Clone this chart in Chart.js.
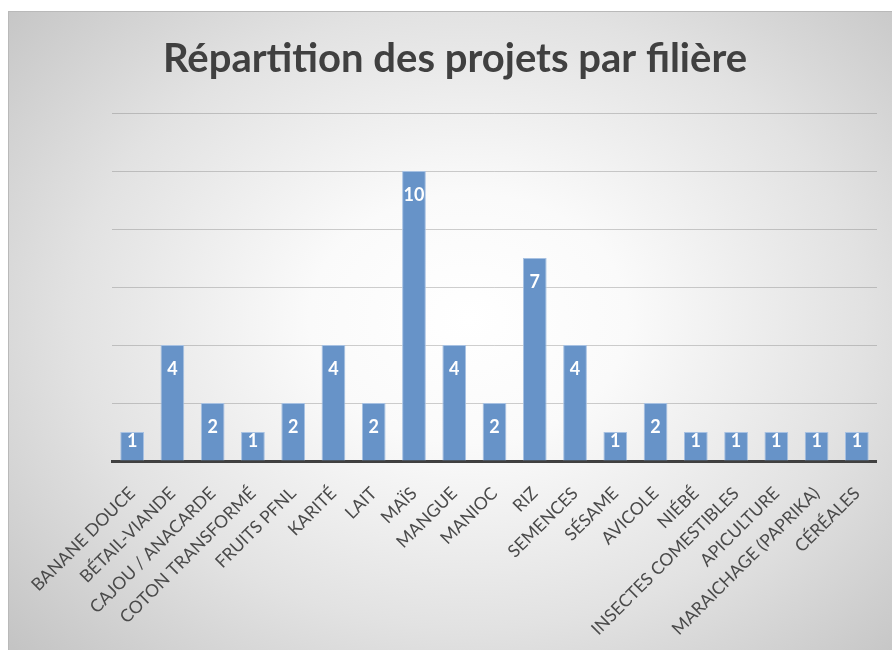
<!DOCTYPE html>
<html>
<head>
<meta charset="utf-8">
<script src="https://cdn.jsdelivr.net/npm/chart.js@4"></script>
<style>
  html, body { margin: 0; padding: 0; background: #ffffff; overflow: hidden; }
  #frame {
    position: absolute; left: 8px; top: 11px; width: 884px; height: 639px; overflow: hidden;
    border-top: 1px solid #b9b9b9; border-left: 1px solid #b9b9b9;
    background: radial-gradient(ellipse 72% 78% at 52% 48%, #ffffff 0%, #fafafa 25%, #e2e2e2 62%, #c2c2c2 100%);
  }
  canvas { display: block; }
</style>
</head>
<body>
<div id="frame"><canvas id="chart" width="868" height="638"></canvas></div>
<script>
// Filières and number of projects
const filieres = [
    'BANANE DOUCE', 'BÉTAIL-VIANDE', 'CAJOU / ANACARDE', 'COTON TRANSFORMÉ',
    'FRUITS PFNL', 'KARITÉ', 'LAIT', 'MAÏS', 'MANGUE', 'MANIOC', 'RIZ',
    'SEMENCES', 'SÉSAME', 'AVICOLE', 'NIÉBÉ', 'INSECTES COMESTIBLES',
    'APICULTURE', 'MARAICHAGE (PAPRIKA)', 'CÉRÉALES'
];
const nbProjets = [1, 4, 2, 1, 2, 4, 2, 10, 4, 2, 7, 4, 1, 2, 1, 1, 1, 1, 1];
const yTicks = [0, 2, 4, 6, 8, 10, 12];

// white value labels inside the top of each bar
const barLabels = {
    id: 'barLabels',
    afterDraw(chart) {
        const ctx = chart.ctx;
        const meta = chart.getDatasetMeta(0);
        ctx.save();
        ctx.font = 'bold 18px Lato';
        ctx.fillStyle = '#ffffff';
        ctx.textAlign = 'center';
        ctx.textBaseline = 'middle';
        meta.data.forEach((bar, i) => {
            const h = bar.base - bar.y;
            const off = Math.min(24, Math.max(9, h - 20));
            ctx.fillText(String(nbProjets[i]), bar.x, bar.y + off);
        });
        ctx.restore();
    }
};

const ctx = document.getElementById('chart').getContext('2d');
const chart = new Chart(ctx, {
    type: 'bar',
    data: {
        labels: filieres,
        datasets: [{
            label: 'Projets',
            data: nbProjets,
            backgroundColor: '#6793c8',
            borderColor: '#a7c1e2',
            borderWidth: 1,
            barPercentage: 0.59,
            categoryPercentage: 1
        }]
    },
    options: {
        responsive: false,
        animation: false,
        layout: {
            padding: { left: 24, right: 0, top: 0, bottom: 0 }
        },
        plugins: {
            legend: { display: false },
            tooltip: { enabled: false },
            title: {
                display: true,
                text: 'Répartition des projets par filière',
                color: '#404040',
                font: { family: 'Lato', size: 40, weight: 'bold' },
                padding: { top: 23, bottom: 30 }
            }
        },
        scales: {
            x: {
                grid: { display: false },
                border: { color: '#404040', width: 3 },
                ticks: {
                    color: '#4a4a4a',
                    font: { family: 'Lato', size: 17.5 },
                    minRotation: 45,
                    maxRotation: 45,
                    padding: 14,
                    autoSkip: false
                },
                afterFit: (scale) => {
                    scale.height = 189;
                    scale.paddingLeft = 0;
                    scale.paddingRight = 0;
                }
            },
            y: {
                z: 1,
                min: 0,
                max: 12,
                afterBuildTicks: (scale) => { scale.ticks = yTicks.map(v => ({ value: v })); },
                afterFit: (scale) => { scale.width = 79; },
                ticks: { display: false },
                border: { display: false },
                grid: { color: 'rgba(110,110,110,0.33)', lineWidth: 1, drawTicks: false }
            }
        }
    },
    plugins: [barLabels]
});
</script>
</body>
</html>
